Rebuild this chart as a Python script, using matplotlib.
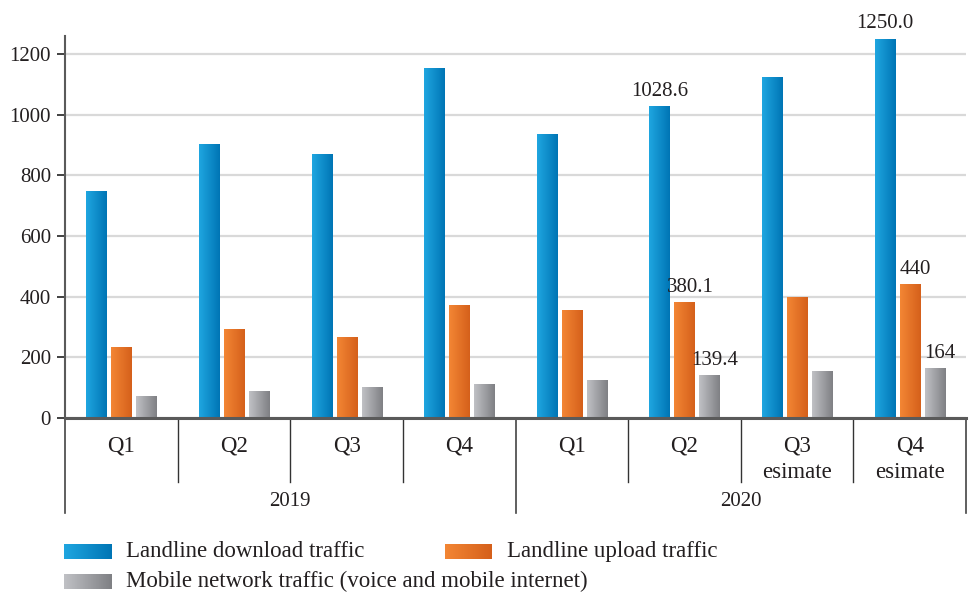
import numpy as np
import matplotlib.pyplot as plt
from matplotlib.colors import LinearSegmentedColormap

# ---------- data ----------
quarters = ["Q1", "Q2", "Q3", "Q4", "Q1", "Q2", "Q3", "Q4"]
quarter_notes = ["", "", "", "", "", "", "esimate", "esimate"]
years = ["2019", "2020"]
download = [748, 903, 870, 1154, 936, 1028.6, 1124, 1250.0]
upload = [234, 293, 267, 372, 353, 380.1, 396, 440]
mobile = [72, 86, 99, 112, 125, 139.4, 152, 164]
series_names = ["Landline download traffic", "Landline upload traffic",
                "Mobile network traffic (voice and mobile internet)"]
# value labels: (series index, quarter index, text)
value_labels = [(0, 5, "1028.6"), (1, 5, "380.1"), (2, 5, "139.4"),
                (0, 7, "1250.0"), (1, 7, "440"), (2, 7, "164")]

# ---------- style ----------
plt.rcParams['font.family'] = ['Liberation Serif', 'DejaVu Serif']
txt_col = "#231f20"
fs = 15      # numbers
fs_w = 16.5  # words
grads = [
    LinearSegmentedColormap.from_list("blue", ["#1fa6e0", "#0075b5"]),
    LinearSegmentedColormap.from_list("orange", ["#f38634", "#d5601b"]),
    LinearSegmentedColormap.from_list("gray", ["#c0c1c5", "#7f8084"]),
]

fig = plt.figure(figsize=(9.71, 5.92), dpi=100)
ax = fig.add_axes([65 / 971, 174 / 592, 901 / 971, 382 / 592])

x = np.arange(len(quarters))
width = 0.178
step = 0.222
all_bars = []
for i, vals in enumerate([download, upload, mobile]):
    bars = ax.bar(x + (i - 1) * step, vals, width, color="none", zorder=3)
    all_bars.append(bars)
    grad = np.linspace(0, 1, 64).reshape(1, -1)
    for b in bars:
        ax.imshow(grad, cmap=grads[i], aspect="auto", zorder=3,
                  extent=[b.get_x(), b.get_x() + b.get_width(), 0, b.get_height()])

ax.set_xlim(-0.5, len(quarters) - 0.5)
ax.set_ylim(0, 1260)
ax.set_yticks(np.arange(0, 1201, 200))
ax.yaxis.grid(True, color="#d9d9d9", lw=1.6, zorder=0)
ax.set_axisbelow(True)

ax.spines[['top', 'right']].set_visible(False)
ax.spines['left'].set_color("#5a5a5a")
ax.spines['left'].set_linewidth(1.5)
ax.spines['bottom'].set_color("#5a5a5a")
ax.spines['bottom'].set_linewidth(2.2)
ax.spines['bottom'].set_zorder(4)
ax.tick_params(axis='y', direction='out', length=6, width=1.3, color="#333333",
               labelsize=fs, labelcolor=txt_col, pad=4)
ax.set_xticks([])

# value labels above bars
for s, q, t in value_labels:
    b = all_bars[s][q]
    ax.annotate(t, (b.get_x() + b.get_width() / 2, b.get_height()),
                xytext=(4 if s > 0 else 0, 4), textcoords="offset points",
                ha="center", va="bottom", fontsize=fs, color=txt_col)

# grouped category axis below the plot
tr = ax.get_xaxis_transform()
px = 1 / 382
for k in range(len(quarters) + 1):
    pos = k - 0.5
    if k % 4 == 0:
        ax.plot([pos, pos], [0, -95 * px], transform=tr, color="#444444",
                lw=1.2, clip_on=False)
    else:
        ax.plot([pos, pos], [0, -64 * px], transform=tr, color="#333333",
                lw=1.0, clip_on=False)
for k, q in enumerate(quarters):
    ax.text(k, -28 * px, q, transform=tr, ha="center", va="center",
            fontsize=fs_w, color=txt_col)
    if quarter_notes[k]:
        ax.text(k, -54 * px, quarter_notes[k], transform=tr, ha="center",
                va="center", fontsize=fs_w, color=txt_col)
for j, y in enumerate(years):
    ax.text(4 * j + 1.5, -84 * px, y, transform=tr, ha="center", va="center",
            fontsize=fs, color=txt_col)

# legend with gradient swatches
swatches = [(64, 544), (445, 544), (64, 574)]
for i, (sx, sy) in enumerate(swatches):
    sax = fig.add_axes([sx / 971, 1 - (sy + 15) / 592, 47 / 971, 15 / 592])
    sax.imshow(np.linspace(0, 1, 64).reshape(1, -1), cmap=grads[i], aspect="auto")
    sax.axis("off")
    fig.text((sx + 62) / 971, 1 - (sy + 7.5) / 592, series_names[i],
             ha="left", va="center", fontsize=fs_w, color=txt_col)

fig.savefig("out.png", dpi=100)
